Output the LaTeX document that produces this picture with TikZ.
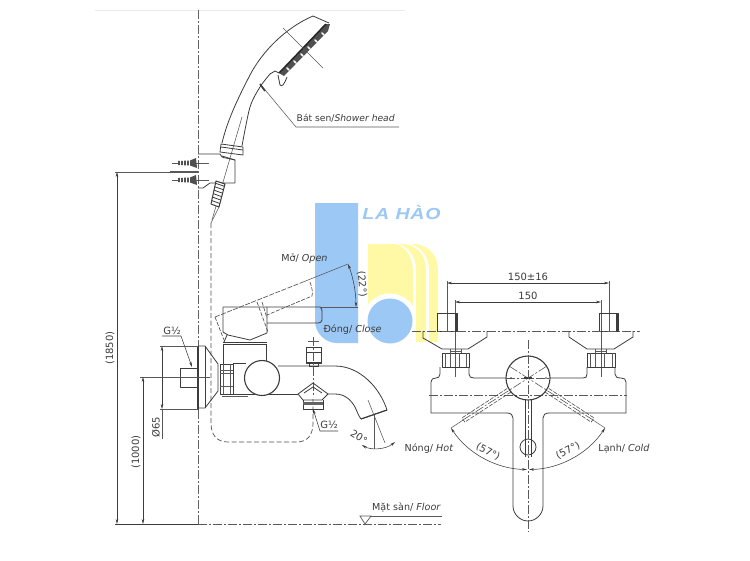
\documentclass[tikz,border=0pt]{standalone}
\usepackage{fontspec}
\setmainfont{DejaVu Sans}
\newfontfamily\logofont[LetterSpace=5,FakeStretch=1.22]{Liberation Sans}
\usetikzlibrary{arrows.meta,calc}
\definecolor{ink}{HTML}{3C3C3C}
\definecolor{logoblue}{HTML}{9CC8F5}
\definecolor{logoyellow}{HTML}{FFF9A6}
\tikzset{
  ln/.style={draw=ink,line width=0.8pt,line join=round},
  thk/.style={draw=ink,line width=1.3pt},
  thn/.style={draw=ink!85,line width=0.55pt},
  hid/.style={draw=ink!90,line width=0.7pt,dash pattern=on 5pt off 2.5pt},
  ctr/.style={draw=ink!85,line width=0.6pt,dash pattern=on 9pt off 2pt on 2pt off 2pt},
  wall/.style={draw=ink!80,line width=1pt,dash pattern=on 9pt off 2pt on 2pt off 2pt},
  dimn/.style={draw=ink,line width=0.55pt,{Stealth[length=5pt,width=2.6pt]}-{Stealth[length=5pt,width=2.6pt]}},
  lead/.style={draw=ink,line width=0.55pt,-{Stealth[length=5pt,width=2.6pt]}},
  lbl/.style={inner sep=0pt,text=ink,font=\fontsize{9.6}{11}\selectfont},
  dimlbl/.style={inner sep=0pt,text=ink,font=\fontsize{10}{12}\selectfont},
}
\begin{document}
\begin{tikzpicture}[x=1pt,y=-1pt]
\path[use as bounding box,fill=white] (0,0) rectangle (750,560);
% logo
\fill[logoblue] (315,203) -- (358,203) -- (358,343) -- (337,343) .. controls (325,343) and (315,333) .. (315,321) -- cycle;
\fill[logoyellow] (368,244) -- (395,244) .. controls (406,246) and (413,258) .. (413,272) -- (413,330) -- (368,330) -- cycle;
\fill[white] (390,321) circle[radius=27.5];
\fill[white] (368,321) rectangle (380,343);
\fill[logoblue] (390,321) circle[radius=22.5];
\fill[logoyellow] (399,244) -- (405,244) .. controls (418,246) and (426,256) .. (426,270) -- (426,342) -- (416,342) -- (416,270) .. controls (416,258) and (410,248) .. (399,244) -- cycle;
\fill[logoyellow] (411,244) -- (416,244) .. controls (430,246) and (438,256) .. (438,270) -- (438,342) -- (429,342) -- (429,270) .. controls (429,258) and (423,248) .. (411,244) -- cycle;
\node[inner sep=0pt,text=logoblue,font=\logofont\fontsize{16}{18}\selectfont\bfseries\itshape] (logotext) at (401.5,213) {LA HÀO};
% faint top rule
\draw[black!8,line width=0.6pt] (95,10) -- (405,10);
% wall and floor
\draw[wall] (198,10) -- (198,346);
\draw[wall] (198,410) -- (198,524);
\draw[thk] (198,346) -- (198,410);
\draw[ln] (115,524) -- (198,524);
\draw[ctr,line width=0.8pt] (198,524) -- (441,524);
% shower head
\draw[ln] (313,16) .. controls (285,28) and (262,52) .. (250,75) .. controls (236,102) and (227,122) .. (222,143);
\draw[ln] plot[smooth] coordinates {(270,74) (260,87) (250,107) (242,146)};
\draw[ln] (313,16) -- (329,23);
\draw[ln] (270,74) -- (275,71) -- (279,73);
\draw[ln] (278,75) -- (280,85) .. controls (282,87) and (284,85) .. (287,77);
\fill[ink!90] (279,73) -- (325,24) -- (330,24) -- (328,31) -- (284,76) -- cycle;
\draw[line width=1.4pt,black!85] (279,73) -- (326,24);
\foreach \a/\b in {288/69,295/62,302/55,309/48,316/41,323/34}{\fill[white,rotate around={-45:(\a,\b)}] (\a,\b) ellipse[x radius=2.4,y radius=0.9];}
\draw[thn] (283,28) -- (323,68);
\draw[ln] (221,144) -- (243,147) -- (243,155) -- (220,152) -- cycle;
\draw[ln] (221,147) -- (243,150);
\draw[thn] (242,117) -- (212,220);
\draw[thn] (219,207) -- (211,223);
% shower head leader
\draw[thn] (261,85) -- (296,127) -- (399,127);
\draw[line width=1.6pt,ink] (260,84) -- (265,91);
\node[lbl,anchor=west,font=\fontsize{9.2}{11}\selectfont] (showerlabel) at (296.5,118) {Bát sen/\textit{Shower head}};
% holder
\draw[ln] (198,154) -- (220,154) (222,156) -- (235,160) -- (235,183) -- (210,183) -- (203,188) -- (198,188);
\draw[ln] (220,154) .. controls (221,156) and (222,158) .. (226,158) -- (235,160);
\draw[thn] (172,163) -- (209,163) (172,180) -- (209,180);
\draw[thn] (170,171) -- (198,171);
\foreach \yy in {163,180}{
  \fill[ink!90] (178,\yy-2) -- (190,\yy-2.5) -- (196,\yy-5) -- (197,\yy+5) -- (190,\yy+2.5) -- (178,\yy+2) -- cycle;
  \foreach \xx in {180,183,186,189}{\draw[white,line width=0.3pt] (\xx,\yy-3) -- (\xx,\yy+3);}
}
% hose grip
\fill[white] (216,181) -- (225,184) -- (219,207) -- (211,204) -- cycle;
\draw[ln,line width=1pt] (216,181) -- (225,184) -- (219,207) -- (211,204) -- cycle;
\foreach \t in {0.1,0.25,0.4,0.55,0.7,0.85}{\draw[ink,line width=0.8pt] ($(216,181)!\t!(211,204)$) -- ($(225,184)!\t!(219,207)$);}
% hose dashed run
\draw[hid] (211,223) -- (211,423) .. controls (211,434) and (216,442) .. (228,442) -- (297,442) .. controls (308,442) and (313,434) .. (313,423) -- (313,397);
% lever closed
\draw[ln] (223,307) -- (320,307) .. controls (322,308) and (322,310) .. (322,312) -- (322,320) .. controls (322,322) and (320,323) .. (318,323) -- (267,323);
\draw[ln] (223,307) -- (223,332) -- (228,335) -- (250,340) -- (267,333) -- (267,307);
\draw[thn] (320,307) -- (358,307);
\draw[ln] (224,342) -- (227,335);
% lever open
\draw[hid,line width=0.65pt,dash pattern=on 5pt off 1.5pt] (215,317) -- (303,282);
\draw[thn] (303,282) -- (348,264);
\draw[hid,line width=0.65pt,dash pattern=on 4pt off 1.5pt] (215,317) -- (224,340);
\draw[hid,line width=0.65pt,dash pattern=on 4pt off 1.5pt] (257,302) -- (268,332);
\draw[hid,line width=0.65pt,dash pattern=on 4pt off 1.5pt] (262,302) -- (267,318);
\draw[hid,line width=0.65pt,dash pattern=on 4pt off 1.5pt] (310,282) .. controls (312,288) and (313,292) .. (312,296) -- (267,315);
\draw[dimn] (348,264) .. controls (353,277) and (356,292) .. (356,307);
\node[lbl] (openlabel) at (304.5,259) {Mở/ \textit{Open}};
\node[lbl] (closelabel) at (352.5,330) {Đóng/ \textit{Close}};
\node[dimlbl,rotate=-85] (openangle) at (362,284) {(22°)};
% cylinder
\draw[ln] (223,342) -- (267,342) (223,344) -- (267,344);
\draw[ln] (223,344) -- (223,364) (266,344) -- (266,364);
% escutcheon and nipple
\draw[ln] (198,346) -- (205,346) -- (218,364) -- (218,391) -- (205,408) -- (198,408);
\draw[ln] (205,346) -- (205,408);
\draw[ln,line width=1pt] (180,368) rectangle (198,387);
\draw[thn] (142,377) -- (210,377);
% nut
\draw[ln] (220,364) rectangle (233,394);
\draw[thn] (223,364) -- (223,394) (230,364) -- (230,394) (220,370) -- (233,370) (220,373) -- (233,373) (220,386) -- (233,386);
\draw[ln] (233,363) -- (246,363) (233,394) -- (298,394);
\draw[thn] (222,396) -- (248,396);
% valve body circle
\node[circle,draw=ink,line width=1.1pt,fill=white,minimum size=35pt,inner sep=0pt] (valve) at (262,378) {};
% spout
\draw[ln] (278,366) -- (335,366) .. controls (360,366) and (380,388) .. (387,410) -- (361,419);
\draw[ln] (361,419) .. controls (358,415) and (357,411) .. (355,407) .. controls (351,400) and (345,394) .. (335,394) -- (328,394);
\draw[line width=1.1pt,ink] (387,410) -- (361,419);
% top diverter knob
\draw[ln] (306,347) rectangle (321,363);
\draw[ln] (306,352) -- (321,352) (306,362) -- (321,362);
\draw[ln] (309,363) -- (309,366) -- (318,366) -- (318,363);
\draw[thn] (308,341) -- (319,341);
\draw[ctr] (313,337) -- (313,397);
% bottom outlet
\draw[ln] (298,394) -- (313,383) -- (328,394) -- (322,400) -- (303,400) -- cycle;
\draw[ln] (304,393) -- (313,387) -- (322,393);
\draw[ln] (303,400) -- (303,409) -- (323,409) -- (323,400);
\fill[ink!80] (303,402) rectangle (323,405);
% outlet G1/2
\draw[lead,{Stealth[length=5pt,width=2.6pt]}-] (313,409) -- (320,431) -- (338,431);
\node[dimlbl] (gbottom) at (329,425) {G½};
% spout angle
\draw[thn] (368,400) -- (385,443);
\draw[thn] (374,415) -- (374,449);
\draw[dimn] (362,445) .. controls (370,450) and (385,450) .. (395,442);
\node[dimlbl,rotate=-32] (spoutangle) at (359,437) {20°};
% G1/2 left
\draw[lead] (162,336) -- (181,336) -- (192,367);
\node[dimlbl] (gleft) at (172,330.5) {G½};
% dims left
\draw[thn] (160,346) -- (198,346) (160,409) -- (198,409);
\draw[dimn] (162,346) -- (162,409);
\draw[thn] (162,409) -- (162,439);
\node[dimlbl,rotate=90] (d65) at (156,427) {Ø65};
\draw[thn] (140,377) -- (180,377);
\draw[dimn] (143,377) -- (143,524);
\node[dimlbl,rotate=90] (d1000) at (136,452) {(1000)};
\draw[thn] (115,172) -- (198,172);
\draw[dimn] (117,172) -- (117,524);
\node[dimlbl,rotate=90] (d1850) at (110,348) {(1850)};
% floor mark
\draw[thn,line width=0.7pt] (360,516) -- (365,524) -- (371,516) -- cycle;
\draw[thn,line width=0.7pt] (371,516) -- (442,516);
\node[lbl,anchor=west] (floorlabel) at (372,508) {Mặt sàn/ \textit{Floor}};
% right view dims
\draw[dimn] (447,283) -- (609,283);
\draw[dimn] (455,302) -- (601,302);
\node[dimlbl] (d150t) at (528,277) {150±16};
\node[dimlbl] (d150) at (528,296) {150};
\draw[thn] (447,281) -- (447,331) (609,281) -- (609,331);
\draw[thn] (455,300) -- (455,377) (601,300) -- (601,377);
% right view nipples
\draw[ln,line width=1pt] (437,313) rectangle (457,331);
\draw[ln,line width=1pt] (599,313) rectangle (618,331);
\draw[thk] (456,313) -- (456,331) (617,313) -- (617,331);
\draw[ctr,line width=0.8pt] (412,331) -- (640,331);
% escutcheons
\draw[ln] (423,331) -- (423,338) -- (442,349) -- (468,349) -- (487,337) -- (487,331);
\draw[ln] (569,331) -- (569,337) -- (587,349) -- (614,349) -- (633,337) -- (633,331);
% nuts
\draw[ln] (442,353) rectangle (469,367);
\draw[ln] (587,353) rectangle (615,367);
\draw[thn] (445,353) -- (445,367) (466,353) -- (466,367) (590,353) -- (590,367) (612,353) -- (612,367) (450,349) -- (450,353) (461,349) -- (461,353) (595,349) -- (595,353) (606,349) -- (606,353) (450,351) -- (461,351) (595,351) -- (606,351);
\draw[thn] (450,353) -- (450,367) (459,353) -- (459,367) (595,353) -- (595,367) (604,353) -- (604,367);
% body
\draw[ln] (440,367) -- (440,374) .. controls (440,377) and (438,378) .. (436,378) .. controls (433,378) and (431,379) .. (431,382) -- (431,413) -- (507,413) .. controls (511,413) and (513,415) .. (513,418) -- (513,506) .. controls (513,514) and (520,521) .. (528,521) .. controls (536,521) and (543,514) .. (543,506) -- (543,418) .. controls (543,415) and (545,413) .. (549,413) -- (626,413) -- (626,382) .. controls (626,379) and (624,378) .. (621,378) .. controls (617,378) and (615,377) .. (615,374) -- (615,367);
\draw[ln] (469,367) -- (469,374) .. controls (469,377) and (471,378) .. (474,378) -- (506,378);
\draw[ln] (550,378) -- (583,378) .. controls (586,378) and (587,377) .. (587,374) -- (587,367);
\draw[ctr] (429,395) -- (627,395);
% levers
\draw[hid,line width=0.6pt,dash pattern=on 4pt off 1.5pt] (545.1,392.1) -- (591.2,422.1) -- (594,417.9) -- (547.9,387.9);
\draw[hid,line width=0.6pt,dash pattern=on 4pt off 1.5pt] (510.9,392.1) -- (464.8,422.1) -- (462,417.9) -- (508.1,387.9);
\draw[ctr] (593,420) -- (509,366);
\draw[ctr] (463,420) -- (547,366);
\draw[thn] (593,420) -- (605,428) (463,420) -- (451,428);
\node[circle,draw=ink,line width=1.1pt,minimum size=44pt,inner sep=0pt] (handle) at (528,378) {};
\draw[ctr] (506,378) -- (550,378);
\fill[ink] (524,377) rectangle (532,379.2);
\fill[ink] (511,378) circle[radius=0.9] (546,378) circle[radius=0.9];
\draw[ln] (525,400) -- (525,457) (531,400) -- (531,457);
\node[circle,draw=ink,line width=0.8pt,minimum size=16pt,inner sep=0pt] (knob) at (528,447) {};
\draw[ctr] (528,340) -- (528,532);
% angle arc
\draw[dimn] (451,428) .. controls (468,454) and (497,469) .. (527,469.5);
\draw[dimn] (605,428) .. controls (588,454) and (559,469) .. (529,469.5);
\node[dimlbl,rotate=-28] (hotangle) at (488,451.5) {(57°)};
\node[dimlbl,rotate=28] (coldangle) at (568,450.5) {(57°)};
\node[lbl] (hotlabel) at (429,449) {Nóng/ \textit{Hot}};
\node[lbl] (coldlabel) at (624,449) {Lạnh/ \textit{Cold}};
\end{tikzpicture}
\end{document}
